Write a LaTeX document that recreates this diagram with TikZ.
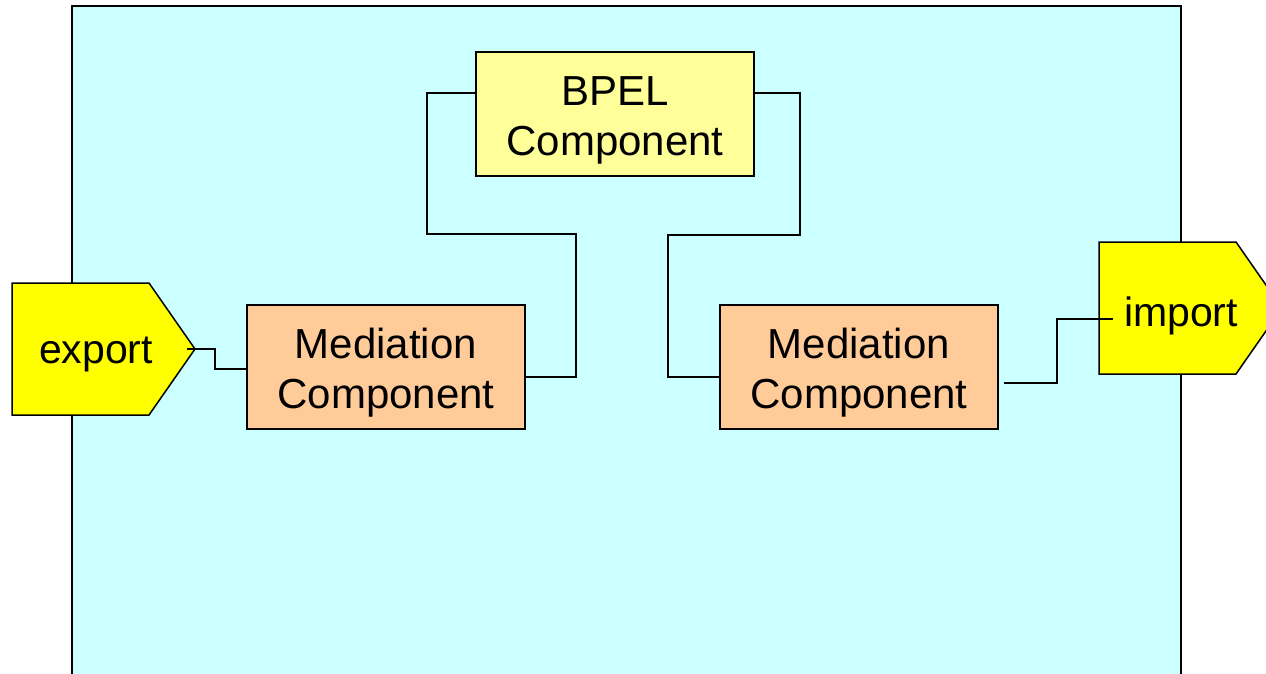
\documentclass[tikz,border=0pt]{standalone}
\usepackage{fontspec}
\setmainfont{Liberation Sans}
\definecolor{panel}{HTML}{CCFFFF}
\definecolor{bpel}{HTML}{FFFF99}
\definecolor{medi}{HTML}{FFCC99}
\definecolor{port}{HTML}{FFFF00}
% extra head room on the first line of a component label
\newcommand{\headroom}{\rule{0pt}{41pt}}
\begin{document}
\begin{tikzpicture}[x=1pt,y=-1pt,
  comp/.style={draw=black,line width=1.5pt,minimum width=278pt,minimum height=124pt,
    align=center,inner sep=0pt,font=\fontsize{42}{50}\selectfont},
  portshape/.style={draw=black,line width=1.5pt,fill=port,line join=miter},
  porttext/.style={font=\fontsize{41}{49}\selectfont,inner sep=0pt},
  wire/.style={draw=black,line width=2pt}]
\useasboundingbox (0,0) rectangle (1266,674);
\clip (0,0) rectangle (1266,674);
% module panel
\draw[fill=panel,line width=2pt] (72,6) rectangle (1181,700);
% ports
\draw[portshape] (12,283) -- (149,283) -- (195,349) -- (149,415) -- (12,415) -- cycle;
\draw[portshape] (1099,242) -- (1236,242) -- (1282,308) -- (1236,374) -- (1099,374) -- cycle;
\node[porttext] (export) at (96,354) {export};
\node[porttext] (import) at (1181,316) {import};
\coordinate (exportTip) at (187,349);
\coordinate (importIn) at (1113,319);
% components
\node[comp,fill=bpel] (bpelc) at (615,114) {\headroom BPEL\\Component};
\node[comp,fill=medi] (medA) at (386,367) {\headroom Mediation\\Component};
\node[comp,fill=medi] (medB) at (859,367) {\headroom Mediation\\Component};
% wires
\draw[wire] (exportTip) -- (215,349) -- (215,369) -- (medA.west |- 0,369);
\draw[wire] (medA.east |- 0,377) -- (576,377) -- (576,234) -- (427,234) -- (427,93) -- (bpelc.west |- 0,93);
\draw[wire] (bpelc.east |- 0,93) -- (800,93) -- (800,235) -- (668,235) -- (668,377) -- (medB.west |- 0,377);
\draw[wire] ([xshift=5pt]medB.east |- 0,383) -- (1057,383) -- (1057,319) -- (importIn);
\end{tikzpicture}
\end{document}
